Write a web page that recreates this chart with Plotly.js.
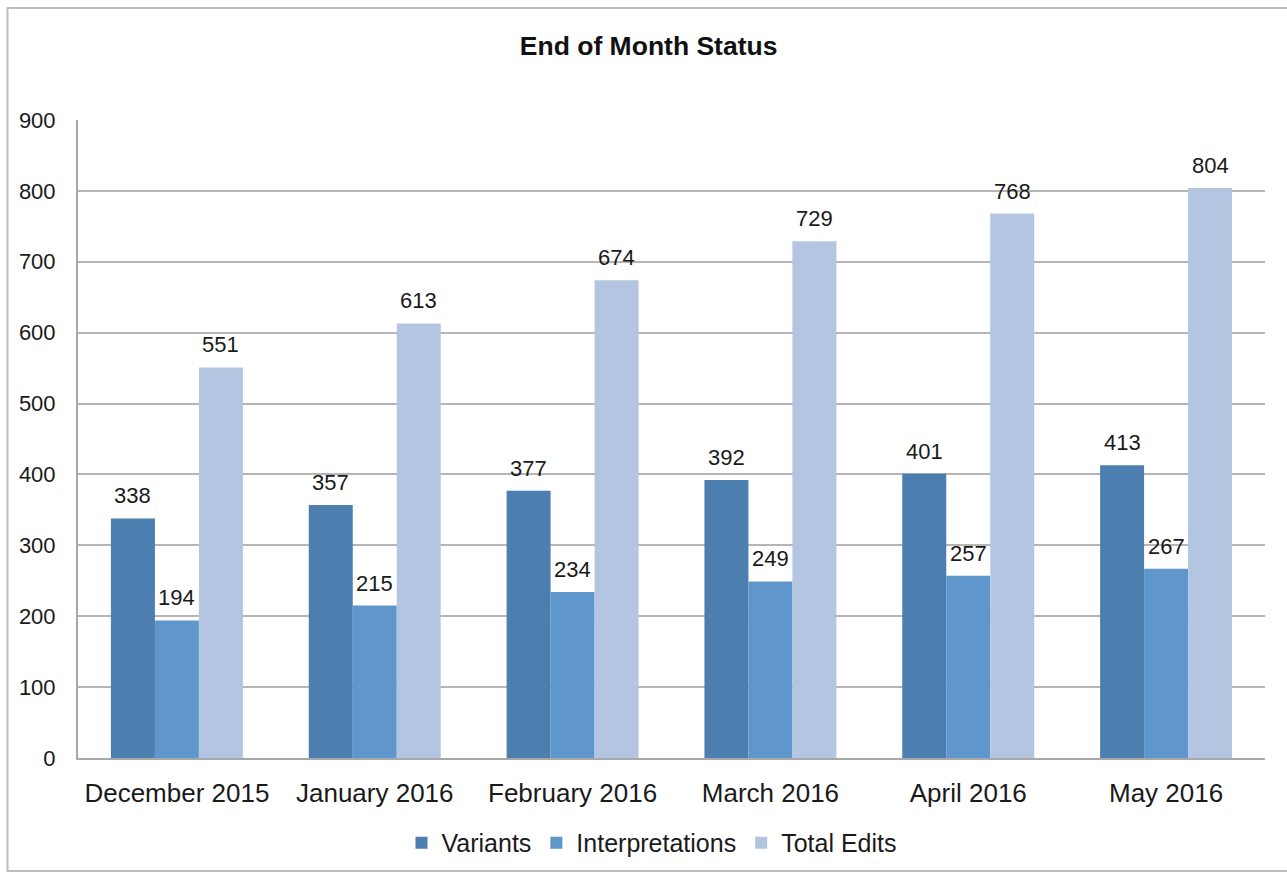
<!DOCTYPE html>
<html>
<head>
<meta charset="utf-8">
<script src="https://cdn.plot.ly/plotly-3.0.1.min.js"></script>
<style>
html,body{margin:0;padding:0;background:#fff;}
#chart{width:1287px;height:873px;}
</style>
</head>
<body>
<div id="chart"></div>
<script>
const months = ["December 2015","January 2016","February 2016","March 2016","April 2016","May 2016"];
const variants = [338,357,377,392,401,413];
const interpretations = [194,215,234,249,257,267];
const totalEdits = [551,613,674,729,768,804];
const seriesNames = ["Variants","Interpretations","Total Edits"];
const seriesColors = ["#4c7eb0","#5f96cb","#b3c5e0"];
const yTicks = [0,100,200,300,400,500,600,700,800,900];

const FONT = "Liberation Sans, Arial, Helvetica, sans-serif";
const allSeries = [variants, interpretations, totalEdits];

const traces = allSeries.map((vals, i) => ({
  type: "bar",
  name: seriesNames[i],
  x: months,
  y: vals,
  marker: {color: seriesColors[i], line: {width: 0}},
  hoverinfo: "x+y+name"
}));

const annotations = [];
allSeries.forEach((vals, i) => {
  vals.forEach((v, j) => {
    annotations.push({
      xref: "x", yref: "y",
      x: j + (i - 1) * (2/9), y: v,
      text: String(v),
      showarrow: false,
      yanchor: "bottom", xanchor: "center",
      yshift: 8,
      font: {family: FONT, size: 22, color: "#1a1a1a"}
    });
  });
});

const layout = {
  width: 1287, height: 873,
  paper_bgcolor: "#fff", plot_bgcolor: "#fff",
  margin: {l: 78, r: 22, t: 120, b: 115, autoexpand: false},
  title: {text: "<b>End of Month Status</b>", x: 0.504, xref: "container", y: 0.948, yref: "container",
          xanchor: "center", yanchor: "middle",
          font: {family: FONT, size: 26.5, color: "#111"}},
  barmode: "group",
  bargap: 0.333,
  bargroupgap: 0,
  xaxis: {
    type: "category",
    showgrid: false, zeroline: false,
    showline: true, linecolor: "#a8a8a8", linewidth: 2,
    ticks: "", ticklabelstandoff: 11,
    tickfont: {family: FONT, size: 26, color: "#1a1a1a"}
  },
  yaxis: {
    range: [0, 900],
    tickvals: yTicks, ticktext: yTicks.map(String),
    showgrid: true, gridcolor: "#b5b5b5", gridwidth: 2,
    zeroline: false,
    showline: true, linecolor: "#a8a8a8", linewidth: 2,
    ticks: "", ticklabelstandoff: 16,
    tickfont: {family: FONT, size: 22, color: "#1a1a1a"}
  },
  legend: {
    orientation: "h",
    x: 0.5066, xanchor: "center", xref: "container",
    y: 0.0344, yanchor: "middle", yref: "container",
    font: {family: FONT, size: 25, color: "#1a1a1a"},
    itemwidth: 30,
    traceorder: "normal"
  },
  annotations: annotations,
  shapes: [{
    type: "rect", xref: "paper", yref: "paper",
    x0: -0.0594, x1: 1.05, y0: -0.177, y1: 1.1755,
    line: {color: "#bdbdbd", width: 2}, fillcolor: "rgba(0,0,0,0)", layer: "below"
  }],
  showlegend: true
};

Plotly.newPlot("chart", traces, layout, {displayModeBar: false, staticPlot: true});
</script>
</body>
</html>
